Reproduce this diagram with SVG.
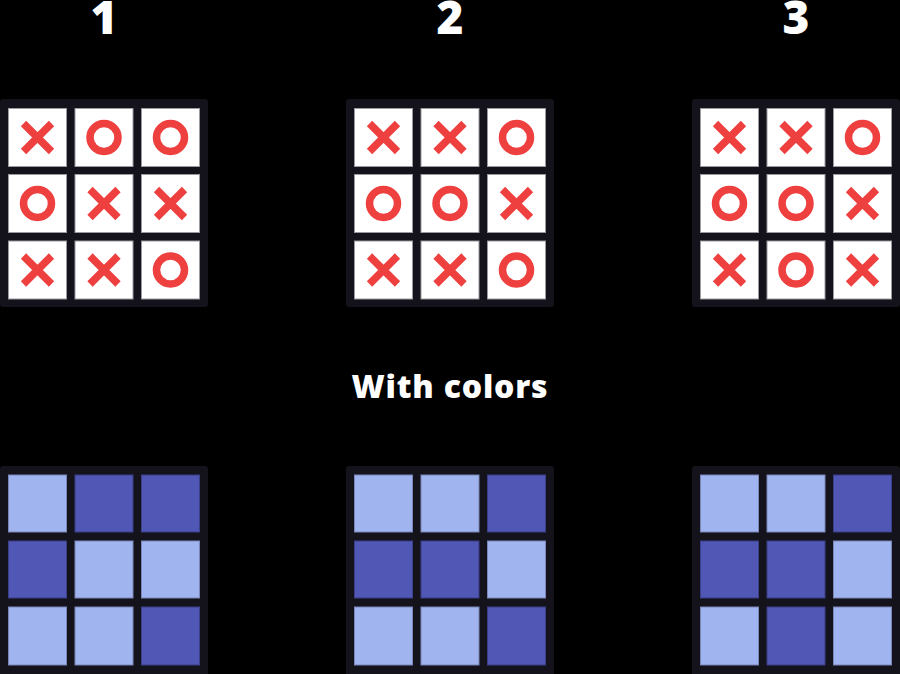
<svg xmlns="http://www.w3.org/2000/svg" width="900" height="674" viewBox="0 0 900 674">
<defs>
<style>
.bg{fill:#000}
.board{fill:#14131b}
.cell{fill:#fff;stroke:#9a9aa0;stroke-width:1}
.lt{fill:#a0b4f0;stroke:#7a86b8;stroke-width:1}
.dk{fill:#5057b4;stroke:#3a3f88;stroke-width:1}
.x{stroke:#ef4040;stroke-width:7.5;fill:none}
.o{stroke:#ef4040;stroke-width:7.5;fill:none}
.t{font-family:"Open Sans","Liberation Sans",sans-serif;font-weight:800;fill:#fff;text-anchor:middle}
</style>
<g id="X"><path class="x" d="M-14,-14L14,14M14,-14L-14,14"/></g>
<g id="O"><circle class="o" r="14"/></g>
</defs>
<rect class="bg" width="900" height="674"/>
<g id="labels">
<text class="t" x="104" y="34" font-size="46">1</text>
<text class="t" x="450" y="34" font-size="46">2</text>
<text class="t" x="796" y="34" font-size="46">3</text>
<text class="t" x="450" y="398" font-size="32" letter-spacing="0.8">With colors</text>
</g>
<g id="board1">
<rect class="board" x="0" y="99" width="208" height="208" rx="3"/>
<rect class="cell" x="8.5" y="108.5" width="58" height="58"/>
<rect class="cell" x="75" y="108.5" width="58" height="58"/>
<rect class="cell" x="141.5" y="108.5" width="58" height="58"/>
<rect class="cell" x="8.5" y="174.5" width="58" height="58"/>
<rect class="cell" x="75" y="174.5" width="58" height="58"/>
<rect class="cell" x="141.5" y="174.5" width="58" height="58"/>
<rect class="cell" x="8.5" y="241" width="58" height="58"/>
<rect class="cell" x="75" y="241" width="58" height="58"/>
<rect class="cell" x="141.5" y="241" width="58" height="58"/>
<use href="#X" x="37.5" y="137.5"/><use href="#O" x="104" y="137.5"/><use href="#O" x="170.5" y="137.5"/>
<use href="#O" x="37.5" y="203.5"/><use href="#X" x="104" y="203.5"/><use href="#X" x="170.5" y="203.5"/>
<use href="#X" x="37.5" y="270"/><use href="#X" x="104" y="270"/><use href="#O" x="170.5" y="270"/>
</g>
<g id="board2">
<rect class="board" x="346" y="99" width="208" height="208" rx="3"/>
<rect class="cell" x="354.5" y="108.5" width="58" height="58"/>
<rect class="cell" x="421" y="108.5" width="58" height="58"/>
<rect class="cell" x="487.5" y="108.5" width="58" height="58"/>
<rect class="cell" x="354.5" y="174.5" width="58" height="58"/>
<rect class="cell" x="421" y="174.5" width="58" height="58"/>
<rect class="cell" x="487.5" y="174.5" width="58" height="58"/>
<rect class="cell" x="354.5" y="241" width="58" height="58"/>
<rect class="cell" x="421" y="241" width="58" height="58"/>
<rect class="cell" x="487.5" y="241" width="58" height="58"/>
<use href="#X" x="383.5" y="137.5"/><use href="#X" x="450" y="137.5"/><use href="#O" x="516.5" y="137.5"/>
<use href="#O" x="383.5" y="203.5"/><use href="#O" x="450" y="203.5"/><use href="#X" x="516.5" y="203.5"/>
<use href="#X" x="383.5" y="270"/><use href="#X" x="450" y="270"/><use href="#O" x="516.5" y="270"/>
</g>
<g id="board3">
<rect class="board" x="692" y="99" width="208" height="208" rx="3"/>
<rect class="cell" x="700.5" y="108.5" width="58" height="58"/>
<rect class="cell" x="767" y="108.5" width="58" height="58"/>
<rect class="cell" x="833.5" y="108.5" width="58" height="58"/>
<rect class="cell" x="700.5" y="174.5" width="58" height="58"/>
<rect class="cell" x="767" y="174.5" width="58" height="58"/>
<rect class="cell" x="833.5" y="174.5" width="58" height="58"/>
<rect class="cell" x="700.5" y="241" width="58" height="58"/>
<rect class="cell" x="767" y="241" width="58" height="58"/>
<rect class="cell" x="833.5" y="241" width="58" height="58"/>
<use href="#X" x="729.5" y="137.5"/><use href="#X" x="796" y="137.5"/><use href="#O" x="862.5" y="137.5"/>
<use href="#O" x="729.5" y="203.5"/><use href="#O" x="796" y="203.5"/><use href="#X" x="862.5" y="203.5"/>
<use href="#X" x="729.5" y="270"/><use href="#O" x="796" y="270"/><use href="#X" x="862.5" y="270"/>
</g>
<g id="board4">
<rect class="board" x="0" y="466" width="208" height="210" rx="3"/>
<rect class="lt" x="8.5" y="475" width="58" height="57"/>
<rect class="dk" x="75" y="475" width="58" height="57"/>
<rect class="dk" x="141.5" y="475" width="58" height="57"/>
<rect class="dk" x="8.5" y="541" width="58" height="57"/>
<rect class="lt" x="75" y="541" width="58" height="57"/>
<rect class="lt" x="141.5" y="541" width="58" height="57"/>
<rect class="lt" x="8.5" y="607" width="58" height="58"/>
<rect class="lt" x="75" y="607" width="58" height="58"/>
<rect class="dk" x="141.5" y="607" width="58" height="58"/>
</g>
<g id="board5">
<rect class="board" x="346" y="466" width="208" height="210" rx="3"/>
<rect class="lt" x="354.5" y="475" width="58" height="57"/>
<rect class="lt" x="421" y="475" width="58" height="57"/>
<rect class="dk" x="487.5" y="475" width="58" height="57"/>
<rect class="dk" x="354.5" y="541" width="58" height="57"/>
<rect class="dk" x="421" y="541" width="58" height="57"/>
<rect class="lt" x="487.5" y="541" width="58" height="57"/>
<rect class="lt" x="354.5" y="607" width="58" height="58"/>
<rect class="lt" x="421" y="607" width="58" height="58"/>
<rect class="dk" x="487.5" y="607" width="58" height="58"/>
</g>
<g id="board6">
<rect class="board" x="692" y="466" width="208" height="210" rx="3"/>
<rect class="lt" x="700.5" y="475" width="58" height="57"/>
<rect class="lt" x="767" y="475" width="58" height="57"/>
<rect class="dk" x="833.5" y="475" width="58" height="57"/>
<rect class="dk" x="700.5" y="541" width="58" height="57"/>
<rect class="dk" x="767" y="541" width="58" height="57"/>
<rect class="lt" x="833.5" y="541" width="58" height="57"/>
<rect class="lt" x="700.5" y="607" width="58" height="58"/>
<rect class="dk" x="767" y="607" width="58" height="58"/>
<rect class="lt" x="833.5" y="607" width="58" height="58"/>
</g>
</svg>
